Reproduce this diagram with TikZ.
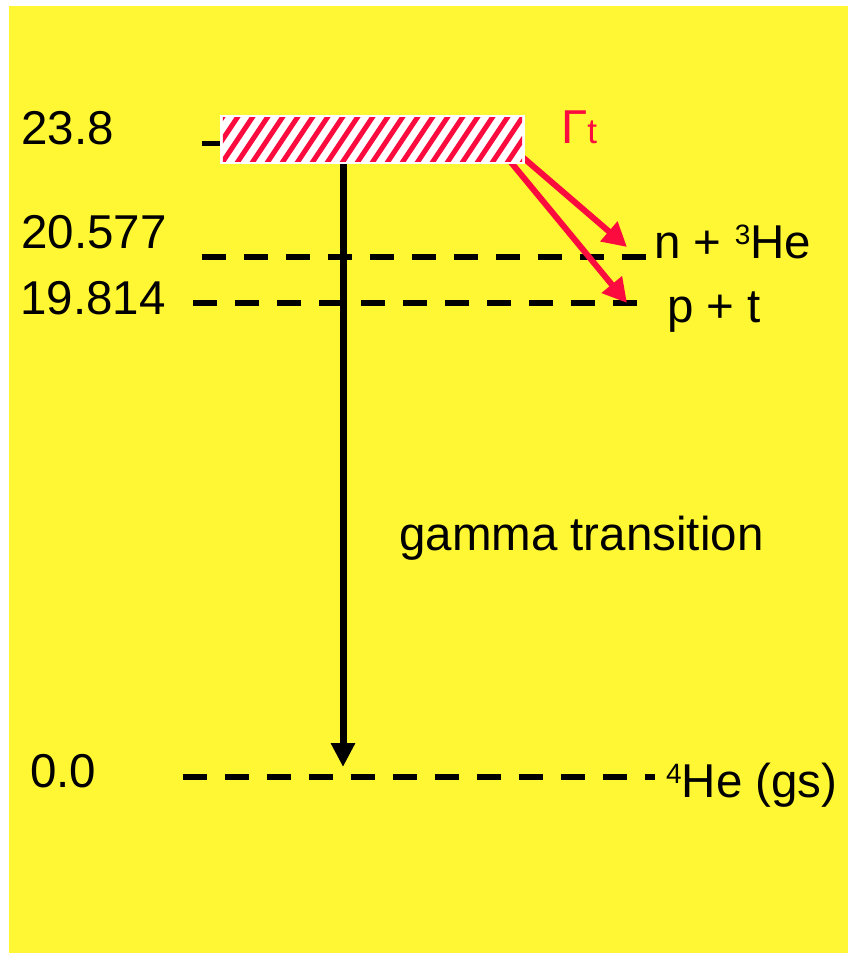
\documentclass[tikz,border=0pt]{standalone}
\usepackage{fontspec}
\setmainfont{Liberation Sans}
\usetikzlibrary{arrows.meta,calc}
\definecolor{bgyellow}{RGB}{255,247,51}
\definecolor{gred}{RGB}{252,12,62}
\newcommand{\supnum}[1]{\raisebox{14pt}{\fontsize{28}{28}\selectfont #1}}

\begin{document}
\begin{tikzpicture}[x=1pt,y=-1pt,
        lbl/.style={anchor=base west,inner sep=0pt,font=\fontsize{47.5}{52}\selectfont},
        level/.style={line width=6pt,dash pattern=on 24pt off 18pt},
        decay/.style={gred,line width=6pt,-{Triangle[length=24pt,width=25pt]}},
        stripe/.style={gred,line width=5pt}]
        \useasboundingbox (0,0) rectangle (848,953);
        \fill[bgyellow] (9,6) rectangle (848,953);
        % levels
        \coordinate (a0) at (202,143); \coordinate (b0) at (222,143);
        \coordinate (a1) at (202,257); \coordinate (b1) at (646,257);
        \coordinate (a2) at (193,303); \coordinate (b2) at (637,303);
        \coordinate (a3) at (183,777); \coordinate (b3) at (655,777);
        \draw[line width=5pt] (a0)--(b0);
        \draw[level] (a1)--(b1); \draw[level] (a2)--(b2); \draw[level] (a3)--(b3);
        % gamma transition
        \coordinate (gtop) at (343,150); \coordinate (gs) at (343,767);
        \draw[line width=7pt,-{Triangle[length=24pt,width=23pt]}] (gtop)--(gs);
        % decay channels
        \coordinate (src1) at (505,142); \coordinate (nhe) at (627,247);
        \coordinate (src2) at (500,149); \coordinate (pt) at (627,303);
        \draw[decay] (src1)--(nhe); \draw[decay] (src2)--(pt);
        % resonance
        \node[fill=white,minimum width=305pt,minimum height=49pt,inner sep=0pt] (box) at (372.5,139.5) {};
        \begin{scope}
            \clip ($(box.south west)+(3,-3)$) rectangle ($(box.north east)+(-3,3)$);
            \foreach \s in {-3,...,21} \draw[stripe] ($(box.south west)+(15*\s,2)$) -- ++(36,-54);
        \end{scope}
        % labels
        \node[lbl] (e0) at (21,144) {23.8};
        \node[lbl] (e1) at (21,248) {20.577};
        \node[lbl] (e2) at (20,314) {19.814};
        \node[lbl] (e3) at (30,787) {0.0};
        \node[lbl,text=gred] (gw) at (561,143) {Γ{\fontsize{35}{35}\selectfont t}};
        \node[lbl] (ch1) at (654,258) {n + \supnum{3}He};
        \node[lbl] (ch2) at (667,322) {p + t};
        \node[lbl] (gsl) at (666,797) {\supnum{4}He (gs)};
        \node[lbl] (gam) at (399,550) {gamma transition};
\end{tikzpicture}
\end{document}
